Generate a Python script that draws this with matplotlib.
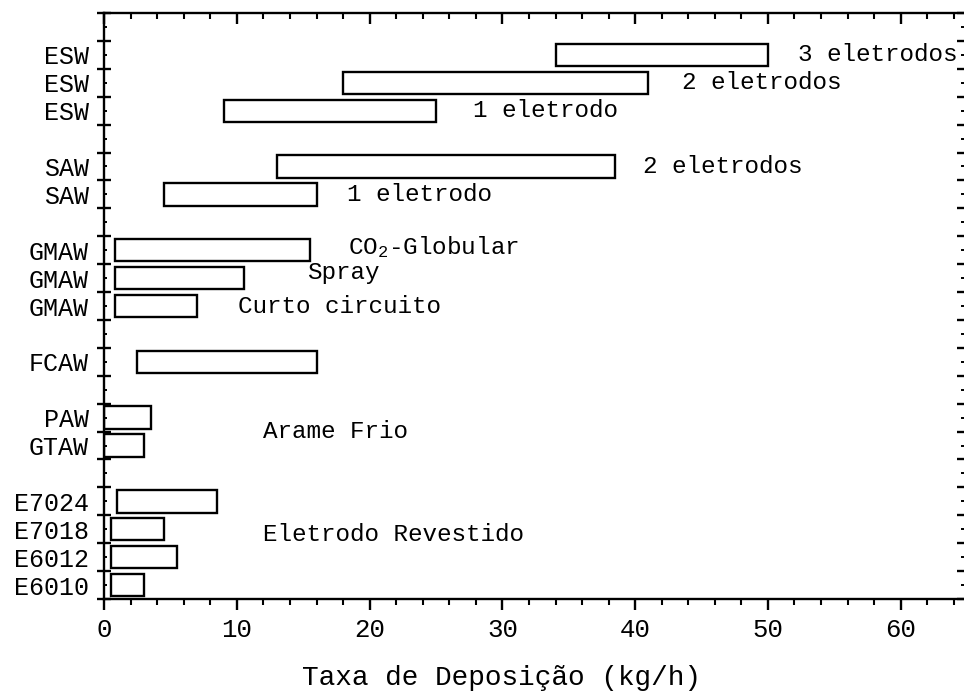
import matplotlib
matplotlib.use("Agg")
import matplotlib.pyplot as plt
import numpy as np

plt.rcParams['font.family'] = ['Liberation Mono', 'DejaVu Sans']
plt.rcParams['mathtext.default'] = 'regular'

# processes, listed bottom to top, with their row position (half-integer rows)
processes = ['E6010', 'E6012', 'E7018', 'E7024',
             'GTAW', 'PAW',
             'FCAW',
             'GMAW', 'GMAW', 'GMAW',
             'SAW', 'SAW',
             'ESW', 'ESW', 'ESW']
rows = [0.5, 1.5, 2.5, 3.5,
        5.5, 6.5,
        8.5,
        10.5, 11.5, 12.5,
        14.5, 15.5,
        17.5, 18.5, 19.5]

# deposition rate range (kg/h)
rate_min = [0.5, 0.5, 0.5, 1.0,
            0.0, 0.0,
            2.5,
            0.8, 0.8, 0.8,
            4.5, 13.0,
            9.0, 18.0, 34.0]
rate_max = [3.0, 5.5, 4.5, 8.5,
            3.0, 3.5,
            16.0,
            7.0, 10.5, 15.5,
            16.0, 38.5,
            25.0, 41.0, 50.0]

# notes written next to the bars: (text, x, y)
notes = [
    ('3 eletrodos', 52.3, 19.5),
    ('2 eletrodos', 43.5, 18.5),
    ('1 eletrodo', 27.8, 17.5),
    ('2 eletrodos', 40.6, 15.5),
    ('1 eletrodo', 18.3, 14.5),
    ('CO$_2$-Globular', 18.4, 12.6),
    ('Spray', 15.3, 11.7),
    ('Curto circuito', 10.1, 10.5),
    ('Arame Frio', 12.0, 6.0),
    ('Eletrodo Revestido', 12.0, 2.3),
]

fig = plt.figure(figsize=(9.64, 6.95), dpi=100)
ax = fig.add_axes([0.1081, 0.1381, 0.895, 0.8432])

widths = np.array(rate_max) - np.array(rate_min)
ax.barh(rows, widths, left=rate_min, height=0.8,
        facecolor='none', edgecolor='black', linewidth=1.7)

for text, x, y in notes:
    ax.text(x, y, text, fontsize=17.5, va='center', ha='left', color='black')

ax.set_xlim(0, 65)
ax.set_ylim(0, 21)

for side in ax.spines.values():
    side.set_linewidth(1.7)

# x axis: majors every 10, minors every 2
ax.set_xticks(np.arange(0, 61, 10))
ax.set_xticks(np.arange(0, 65, 2), minor=True)
ax.tick_params(axis='x', which='major', direction='out', length=8, width=1.7,
               labelsize=18.5, pad=6, top=True)
ax.tick_params(axis='x', which='minor', direction='out', length=4, width=1.5, top=True)
for t in ax.xaxis.get_major_ticks() + ax.xaxis.get_minor_ticks():
    t.tick2line.set_marker(matplotlib.lines.TICKDOWN)

# y axis: row boundaries as majors, row centers carry the labels
half_rows = np.arange(0.5, 21, 1.0)
row_labels = {r: p for r, p in zip(rows, processes)}
ax.set_yticks(np.arange(0, 22, 1))
ax.set_yticklabels([])
ax.set_yticks(half_rows, [row_labels.get(r, '') for r in half_rows], minor=True)
ax.tick_params(axis='y', which='major', direction='inout', length=10, width=1.7, right=True)
ax.tick_params(axis='y', which='minor', direction='in', length=2, width=1.4,
               labelsize=18, pad=11, right=True)
for t in ax.yaxis.get_major_ticks():
    t.tick2line.set_marker(matplotlib.lines.TICKLEFT)
    t.tick2line.set_markersize(7)
for t in ax.yaxis.get_minor_ticks():
    t.tick2line.set_marker(matplotlib.lines.TICKLEFT)
    t.tick2line.set_markersize(4)

ax.set_xlabel('Taxa de Deposição (kg/h)', fontsize=20, va='center')
ax.xaxis.set_label_coords(0.46, -0.135)

fig.savefig('out.png', dpi=100)
